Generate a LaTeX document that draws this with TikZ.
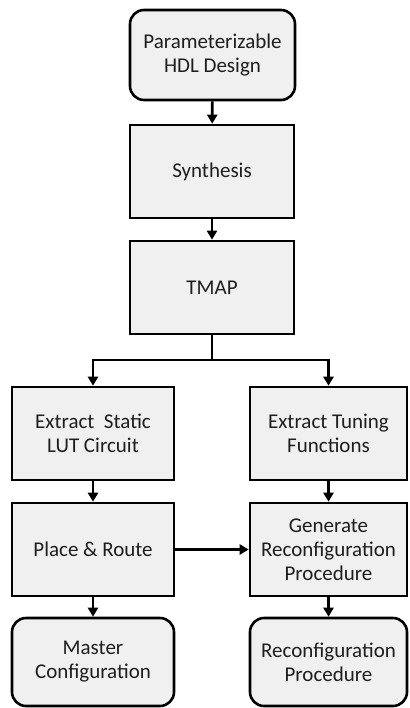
\documentclass[tikz,border=0pt]{standalone}
\usepackage{fontspec}
\setmainfont{Carlito}
\usetikzlibrary{arrows.meta}
\definecolor{boxgray}{HTML}{F0F0F0}
\definecolor{txtgray}{HTML}{1E1E1E}
\begin{document}
\begin{tikzpicture}[x=1pt,y=1pt,
 box/.style={draw=black, line width=2.6pt, fill=boxgray, align=center, inner sep=0pt,
   font=\fontsize{21}{24}\selectfont, text=txtgray, minimum height=93pt},
 wbox/.style={box, minimum width=164pt},
 lbox/.style={box, minimum width=162pt},
 rbox/.style={box, minimum width=157pt},
 round/.style={rounded corners=14pt, minimum height=88pt},
 arr/.style={line width=2.6pt, -{Triangle[length=9pt,width=10pt]}}]
\useasboundingbox (0,0) rectangle (409,-708);
\node[wbox, round, minimum height=90pt, minimum width=165pt] (hdl) at (212.5,-55) {Parameterizable\\HDL Design};
\node[wbox] (syn) at (212,-171.5) {Synthesis};
\node[wbox] (tmap) at (212,-287.5) {TMAP};
\node[lbox] (ex1) at (93,-433.5) {Extract~~Static\\LUT Circuit};
\node[rbox] (ex2) at (328.5,-433.5) {Extract Tuning\\Functions};
\node[lbox] (pr) at (93,-549.5) {Place \& Route};
\node[rbox] (gen) at (328.5,-549.5) {Generate\\Reconfiguration\\Procedure};
\node[lbox, round] (mc) at (93,-662) {Master\\Configuration};
\node[rbox, round] (rp) at (328.5,-662) {Reconfiguration\\Procedure};
\coordinate (br) at (212,-360);
\draw[arr] (hdl) -- (syn);
\draw[arr] (syn) -- (tmap);
\draw[line width=2.6pt] (tmap.south) -- (br);
\draw[arr] (br) -| (ex1.north);
\draw[arr] (br) -| (ex2.north);
\draw[arr] (ex1) -- (pr);
\draw[arr] (ex2) -- (gen);
\draw[arr] (pr) -- (gen);
\draw[arr] (pr) -- (mc);
\draw[arr] (gen) -- (rp);
\end{tikzpicture}
\end{document}
